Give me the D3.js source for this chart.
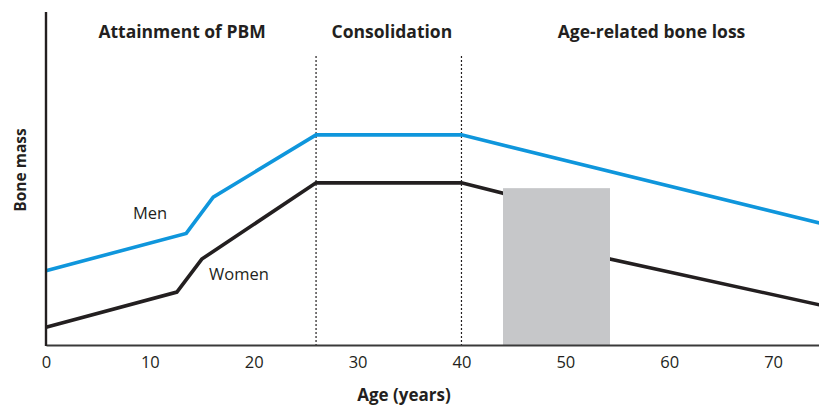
<!DOCTYPE html>
<html><head><meta charset="utf-8">
<script src="https://cdn.jsdelivr.net/npm/d3@7"></script>
<style>body{margin:0;background:#fff}svg{display:block}text{font-family:"Open Sans",sans-serif;fill:#231f20}</style>
</head><body><svg id="c" width="819" height="405"></svg>
<script>
const menAge = [0, 13.5, 16.1, 26, 40, 75];
const menMass = [22.3, 33.5, 44.4, 63.1, 63.1, 36.2];
const womenAge = [0, 12.6, 15.0, 26, 40, 44, 54.3, 75];
const womenMass = [5.3, 15.9, 25.8, 48.7, 48.7, 45.6, 25.8, 11.7];
const phaseLabels = ["Attainment of PBM", "Consolidation", "Age-related bone loss"];
const phaseCenters = [13.1, 33.3, 58.3];
const phaseBounds = [26, 40];
const menopause = [44, 54.3];
const menopauseTop = 47.1;
const xTicks = [0, 10, 20, 30, 40, 50, 60, 70];

const svg = d3.select("#c");
const x = d3.scaleLinear().domain([0, 75]).range([46, 825]);
const y = d3.scaleLinear().domain([0, 100]).range([345, 12]);

// phase boundaries (dotted)
svg.selectAll(".pb").data(phaseBounds).enter().append("line")
  .attr("x1", d => x(d)).attr("x2", d => x(d))
  .attr("y1", y(86.8)).attr("y2", y(0))
  .attr("stroke", "#231f20").attr("stroke-width", 1.2).attr("stroke-dasharray", "2,2");

const line = d3.line().x(d => x(d[0])).y(d => y(d[1]));
svg.append("path").datum(womenAge.map((a, i) => [a, womenMass[i]]))
  .attr("d", line).attr("fill", "none").attr("stroke", "#231f20").attr("stroke-width", 3.6).attr("stroke-linejoin", "miter");
svg.append("path").datum(menAge.map((a, i) => [a, menMass[i]]))
  .attr("d", line).attr("fill", "none").attr("stroke", "#0f96dc").attr("stroke-width", 3.6).attr("stroke-linejoin", "miter");

// menopause band
svg.append("rect").attr("x", x(menopause[0])).attr("width", x(menopause[1]) - x(menopause[0]))
  .attr("y", y(menopauseTop)).attr("height", y(0) - y(menopauseTop)).attr("fill", "#c6c7c9");

// axes
const xAxis = d3.axisBottom(x).tickValues(xTicks).tickSize(0).tickPadding(11).tickFormat(d3.format("d"));
const gx = svg.append("g").attr("transform", `translate(0,${y(0)})`).call(xAxis);
gx.select(".domain").attr("stroke", "#3a3a3a").attr("stroke-width", 2);
gx.selectAll("text").style("font-family", '"Open Sans",sans-serif').style("font-size", "16.5px").attr("fill", "#231f20");

svg.append("line").attr("x1", 46).attr("x2", 46).attr("y1", y(100)).attr("y2", y(0) + 1)
  .attr("stroke", "#231f20").attr("stroke-width", 2.4);

// phase labels
svg.selectAll(".pl").data(phaseLabels).enter().append("text")
  .attr("x", (d, i) => x(phaseCenters[i])).attr("y", 38).attr("text-anchor", "middle")
  .style("font-size", "17.5px").style("font-weight", "bold").text(d => d);

svg.append("text").attr("x", 150).attr("y", 219).attr("text-anchor", "middle").style("font-size", "16.5px").text("Men");
svg.append("text").attr("x", 239).attr("y", 280).attr("text-anchor", "middle").style("font-size", "16.5px").text("Women");

svg.append("text").attr("x", 404).attr("y", 401).attr("text-anchor", "middle")
  .style("font-size", "17px").style("font-weight", "bold").text("Age (years)");
svg.append("text").attr("transform", "translate(26,170) rotate(-90)").attr("text-anchor", "middle")
  .style("font-size", "15.5px").style("font-weight", "bold").text("Bone mass");
</script></body></html>
